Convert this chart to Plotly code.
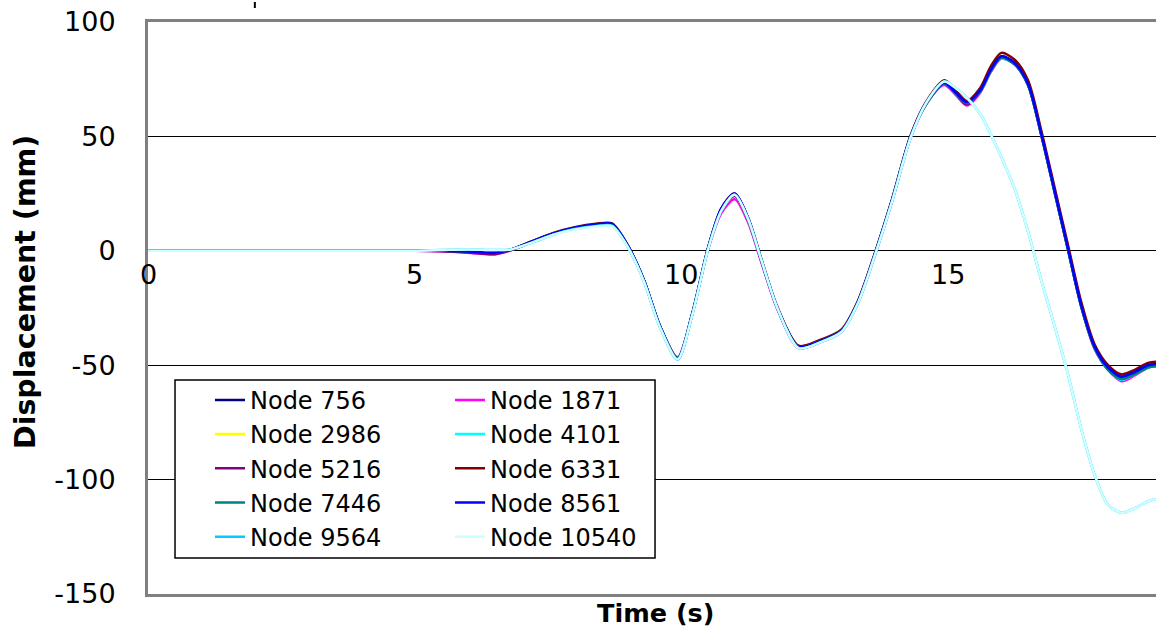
import plotly.graph_objects as go

# Time samples (s)
time_s = [0, 1, 2, 3, 4, 5, 5.5, 6.0, 6.5, 6.8, 7.2, 7.6, 8.0, 8.4, 8.7, 9.0, 9.3, 9.6, 9.93,
          10.2, 10.5, 10.75, 11.0, 11.25, 11.5, 11.8, 12.2, 12.6, 13.0, 13.3, 13.65, 13.95,
          14.3, 14.6, 14.93, 15.15, 15.35, 15.6, 15.8, 16.0, 16.25, 16.5, 16.75, 17.0, 17.25,
          17.5, 17.75, 18.0, 18.25, 18.5, 18.75, 18.9]

# Displacement histories (mm) per node
node_756 = [0, 0, 0, 0, 0, 0, 0, -0.3, -0.8, 0.5, 4, 7.5, 10, 11.3, 11.5, 2, -13, -33, -47,
            -28, 1, 18, 24.5, 14, -4, -25, -42, -39.5, -35, -23, 0, 22,
            50, 65, 73.5, 69, 65, 70, 79, 85, 82, 73, 51, 26, 1,
            -24, -42, -51, -55, -53, -50, -49.5]
node_1871 = [0, 0, 0, 0, 0, 0, -0.2, -0.8, -1.5, 0.2, 3.8, 7.3, 9.8, 11.2, 11.3, 1.8, -13, -33, -46.5,
             -28, 0.5, 16.5, 22.5, 12.5, -5, -25.5, -42.5, -40, -35.5, -23.5, -0.5, 21.5,
             49.5, 64.5, 72.5, 68, 63.5, 69, 78, 84, 81.5, 72.5, 50.5, 25.5, 0.5,
             -24.5, -43, -52, -57, -54.5, -51, -50.5]
node_2986 = [0, 0, 0, 0, 0, 0, 0, -0.4, -0.9, 0.4, 4, 7.4, 9.9, 11.3, 11.4, 2, -13, -33, -47,
             -28, 1, 17.5, 24, 13.5, -4, -25, -42, -39.5, -35, -23, 0, 22,
             50, 64.5, 73, 68.5, 64.5, 69.5, 78.5, 84.5, 81.5, 72.5, 50.5, 25.5, 0.5,
             -24.5, -42.5, -51.5, -56, -53.5, -50.5, -50]
node_4101 = [0, 0, 0, 0, 0, 0, 0, -0.3, -0.8, 0.5, 4, 7.5, 10, 11.3, 11.5, 2, -13, -33, -47,
             -28, 1, 18, 24.5, 14, -4, -25, -42, -39.5, -35, -23, 0, 22,
             50, 64.5, 73, 68.5, 64.5, 69.5, 78.5, 84, 81.5, 72.5, 50.5, 25.5, 0.5,
             -24.5, -42.5, -52, -56.5, -54, -51, -50.5]
node_5216 = [0, 0, 0, 0, 0, 0, -0.2, -0.7, -1.5, 0.2, 3.8, 7.3, 9.8, 11.2, 11.4, 1.9, -13, -33, -47,
             -28, 0.8, 17.5, 24, 13.5, -4.5, -25, -42, -39.5, -35, -23, 0, 22,
             50, 64.5, 73, 68.5, 64, 69.5, 78.5, 84.5, 81.5, 72.5, 50.5, 25.5, 0.5,
             -24.5, -42.5, -51.5, -56, -53.5, -50.5, -50]
node_6331 = [0, 0, 0, 0, 0, 0, 0, -0.3, -0.8, 0.5, 4.2, 7.8, 10.3, 11.8, 12, 2.3, -13, -33, -47,
             -28, 1.2, 18.5, 25, 14.5, -3.5, -24.5, -41.5, -39, -34.5, -22.5, 0.5, 22.5,
             50.5, 65.5, 74.5, 70, 65.5, 71, 80.5, 86.5, 83.5, 74.5, 52.5, 27.5, 2.5,
             -22.5, -41, -50, -54, -52, -49, -48.5]
node_7446 = [0, 0, 0, 0, 0, 0, 0, -0.3, -0.8, 0.5, 4, 7.5, 10, 11.3, 11.5, 2, -13, -33, -47,
             -28, 1, 18, 24.5, 14, -4, -25, -42, -39.5, -35, -23, 0, 22,
             50, 64.5, 73, 68.5, 64.5, 69.5, 78.5, 84.5, 81.5, 72.5, 50.5, 25.5, 0.5,
             -24.5, -42.5, -52, -56, -54, -51, -50.5]
node_8561 = [0, 0, 0, 0, 0, 0, 0, -0.3, -0.8, 0.5, 4.1, 7.6, 10.1, 11.5, 11.7, 2.1, -13, -33, -47.5,
             -28, 1, 18.5, 25, 14.5, -4, -25, -42, -39.5, -35, -23, 0, 22,
             50, 65, 73.5, 69, 65, 70, 79, 85, 82, 73, 51, 26, 1,
             -24, -42, -51, -55, -53, -50, -49.5]
node_9564 = [0, 0, 0, 0, 0, 0, 0.3, 0.6, 0.3, 0.6, 3.6, 7, 9.5, 10.8, 11, 1.5, -13.5, -33.5, -47.5,
             -28.5, 0.5, 17.5, 24.5, 14, -4, -25, -42.5, -40, -35.5, -23.5, -0.5, 21.5,
             49.5, 65, 74, 71, 67, 60, 51, 41, 27, 8.5, -13, -33, -54,
             -78, -98, -111, -114.5, -112.5, -109.5, -108.5]
node_10540 = [0, 0, 0, 0, 0, 0, 0.3, 0.6, 0.3, 0.6, 3.6, 7, 9.3, 10.6, 10.8, 1.5, -13.5, -33.5, -47.5,
              -28.5, 0.5, 17.5, 24.5, 14, -4, -25, -42.5, -40, -35.5, -23.5, -0.5, 21.5,
              49.5, 65, 74, 71, 67, 60, 51, 41, 27, 8.5, -13, -33, -54,
              -78, -98, -111, -114.5, -112.5, -109.5, -108.5]

series_names = ["Node 756", "Node 1871", "Node 2986", "Node 4101", "Node 5216",
                "Node 6331", "Node 7446", "Node 8561", "Node 9564", "Node 10540"]
series_values = [node_756, node_1871, node_2986, node_4101, node_5216,
                 node_6331, node_7446, node_8561, node_9564, node_10540]
series_colors = ["#000080", "#FF00FF", "#FFFF00", "#00FFFF", "#800080",
                 "#800000", "#008080", "#0000FF", "#00CCFF", "#CCFFFF"]

y_ticks = [100, 50, 0, -50, -100, -150]
y_tick_text = ["100", "50", "0", "-50", "-100", "-150"]
x_ticks = [0, 5, 10, 15]
x_tick_text = ["0", "5", "10", "15"]

FONT = "DejaVu Sans"

fig = go.Figure()
for i, (name, vals, col) in enumerate(zip(series_names, series_values, series_colors)):
    fig.add_trace(go.Scatter(
        x=time_s, y=vals, name=name, mode="lines",
        line=dict(color=col, width=2.5, shape="spline", smoothing=0.8),
        legend="legend" if i % 2 == 0 else "legend2",
    ))

# x tick labels sit just under the zero line
for xv, txt in zip(x_ticks, x_tick_text):
    fig.add_annotation(x=xv, y=0, xref="x", yref="y", text=txt, showarrow=False,
                       xanchor="center", yanchor="top", yshift=-6,
                       font=dict(family=FONT, size=27, color="black"))

# axis titles
fig.add_annotation(x=0.503, y=-0.033, xref="paper", yref="paper", text="<b>Time (s)</b>",
                   showarrow=False, xanchor="center", yanchor="middle",
                   font=dict(family=FONT, size=25.5, color="black"))
fig.add_annotation(x=-0.121, y=0.528, xref="paper", yref="paper",
                   text="<b>Displacement (mm)</b>", showarrow=False, textangle=-90,
                   xanchor="center", yanchor="middle",
                   font=dict(family=FONT, size=28.5, color="black"))

legend_common = dict(
    bgcolor="rgba(0,0,0,0)", borderwidth=0,
    font=dict(family=FONT, size=24, color="black"),
    orientation="v", xanchor="left", yanchor="top",
    xref="paper", yref="paper",
)

fig.update_layout(
    width=1156, height=634,
    margin=dict(l=148, r=0, t=22, b=40),
    plot_bgcolor="white", paper_bgcolor="white",
    showlegend=True,
    legend=dict(x=0.0615, y=0.378, **legend_common),
    legend2=dict(x=0.2996, y=0.378, **legend_common),
    xaxis=dict(range=[0, 18.9], showgrid=False, zeroline=False,
               showticklabels=False, ticks="",
               showline=True, linecolor="#808080", linewidth=3, mirror=True),
    yaxis=dict(range=[-150, 100], tickvals=y_ticks, ticktext=y_tick_text,
               showgrid=True, gridcolor="black", gridwidth=1, zeroline=False,
               showline=True, linecolor="#808080", linewidth=3, mirror=False,
               ticks="", ticklabelstandoff=24,
               tickfont=dict(family=FONT, size=27, color="black")),
    shapes=[
        # legend frame
        dict(type="rect", xref="paper", yref="paper",
             x0=0.0268, x1=0.503, y0=0.0629, y1=0.374,
             line=dict(color="black", width=1.5), fillcolor="white", layer="above"),
        # small mark above the plot frame
        dict(type="line", xref="paper", yref="paper",
             x0=0.106, x1=0.106, y0=1.0245, y1=1.035,
             line=dict(color="black", width=2)),
    ],
)

fig.write_html("out.html")
